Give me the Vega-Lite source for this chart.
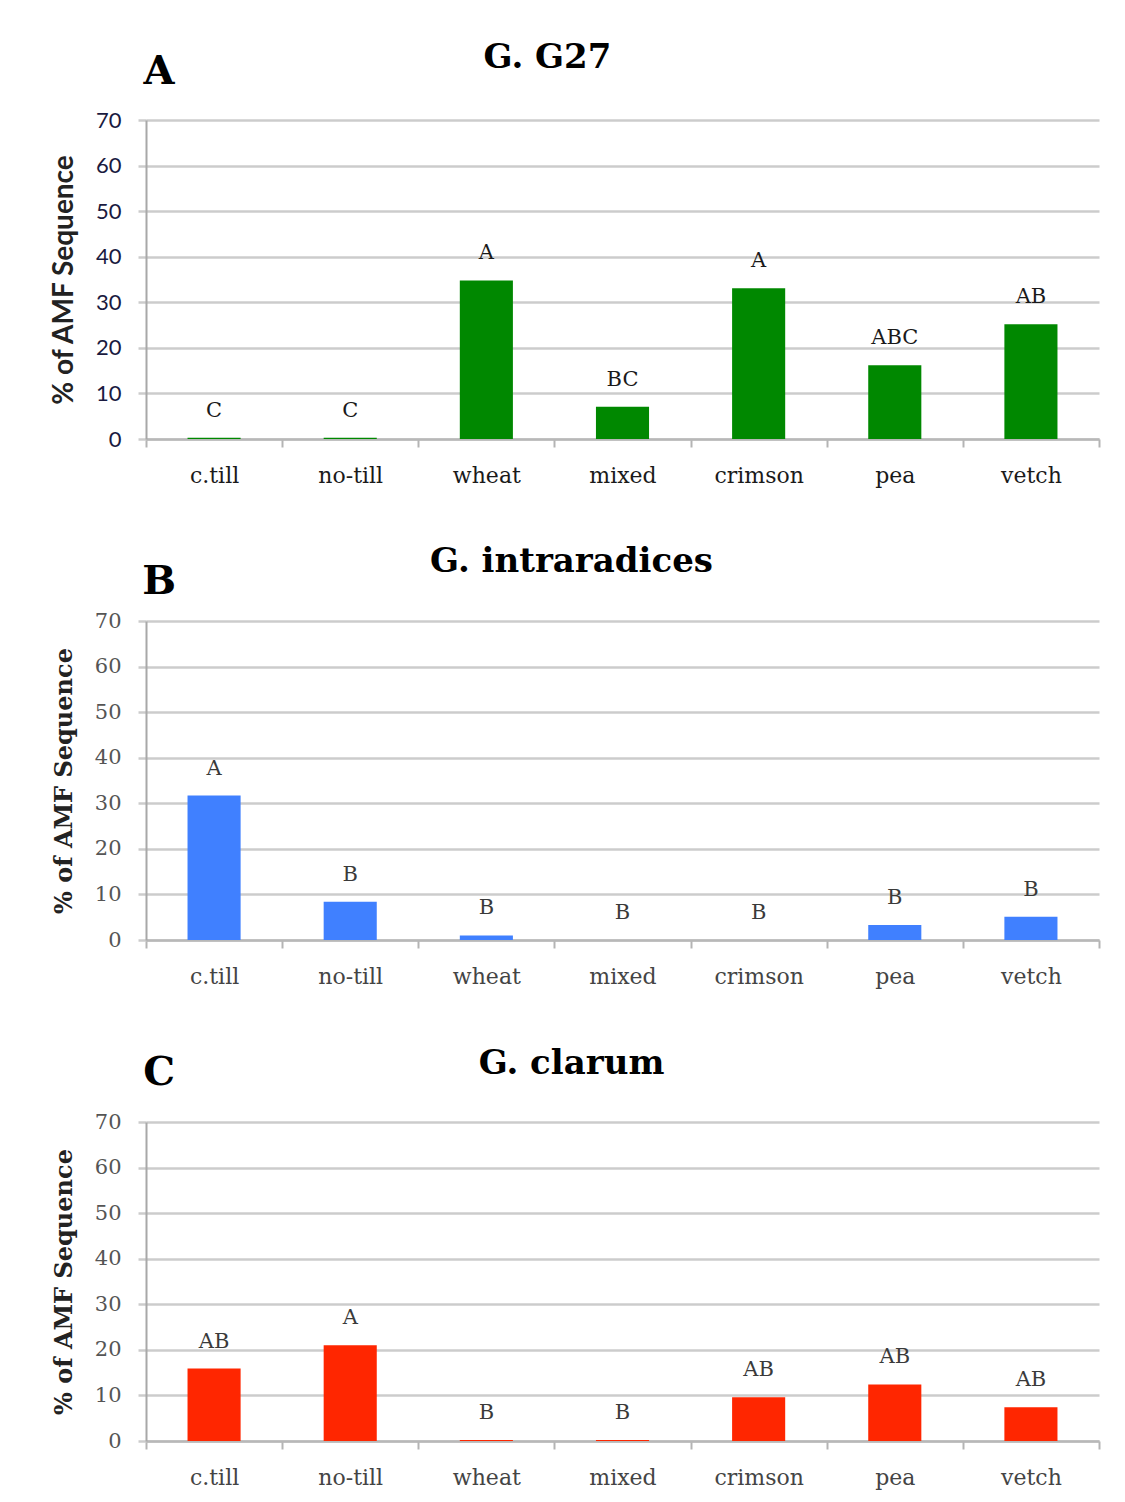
{
  "$schema": "https://vega.github.io/schema/vega-lite/v6.json",
  "background": "white",
  "padding": {"left": 50, "top": 41, "right": 5, "bottom": 5},
  "datasets": {
    "g27": [
      {"treatment": "c.till", "pct": 0.3, "sig": "C"},
      {"treatment": "no-till", "pct": 0.3, "sig": "C"},
      {"treatment": "wheat", "pct": 34.8, "sig": "A"},
      {"treatment": "mixed", "pct": 7.1, "sig": "BC"},
      {"treatment": "crimson", "pct": 33.1, "sig": "A"},
      {"treatment": "pea", "pct": 16.2, "sig": "ABC"},
      {"treatment": "vetch", "pct": 25.2, "sig": "AB"}
    ],
    "intra": [
      {"treatment": "c.till", "pct": 31.7, "sig": "A"},
      {"treatment": "no-till", "pct": 8.4, "sig": "B"},
      {"treatment": "wheat", "pct": 1.0, "sig": "B"},
      {"treatment": "mixed", "pct": 0, "sig": "B"},
      {"treatment": "crimson", "pct": 0, "sig": "B"},
      {"treatment": "pea", "pct": 3.3, "sig": "B"},
      {"treatment": "vetch", "pct": 5.1, "sig": "B"}
    ],
    "clarum": [
      {"treatment": "c.till", "pct": 15.9, "sig": "AB"},
      {"treatment": "no-till", "pct": 21.0, "sig": "A"},
      {"treatment": "wheat", "pct": 0.2, "sig": "B"},
      {"treatment": "mixed", "pct": 0.2, "sig": "B"},
      {"treatment": "crimson", "pct": 9.6, "sig": "AB"},
      {"treatment": "pea", "pct": 12.4, "sig": "AB"},
      {"treatment": "vetch", "pct": 7.4, "sig": "AB"}
    ]
  },
  "bounds": "flush",
  "spacing": 182,
  "vconcat": [
    {
      "width": 953,
      "height": 319,
      "data": {"name": "g27"},
      "encoding": {
        "x": {"field": "treatment", "type": "nominal", "sort": null,
              "scale": {"paddingInner": 0, "paddingOuter": 0},
              "axis": {"title": null, "labelColor": "#1a1a1a"}},
        "y": {"field": "pct", "type": "quantitative",
              "scale": {"domain": [0, 70], "nice": false},
              "axis": {"title": "% of AMF Sequence", "labelFont": "Lato", "labelFontSize": 22, "labelColor": "#1a1a40",
                       "titleFont": "Lato", "titleFontSize": 28, "titlePadding": 17}}
      },
      "layer": [
        {"mark": {"type": "bar", "color": "#008800", "width": {"band": 0.39}}},
        {"mark": {"type": "text", "dy": -27, "baseline": "middle", "font": "DejaVu Serif", "fontSize": 21, "color": "#1a1a1a"},
         "encoding": {"text": {"field": "sig"}}},
        {"transform": [{"filter": "datum.treatment === 'mixed'"}],
         "mark": {"type": "text", "text": "G. G27", "font": "DejaVu Serif", "fontWeight": "bold", "fontSize": 34, "color": "#000", "baseline": "middle", "dx": -75},
         "encoding": {"y": {"datum": 83.5, "type": "quantitative"}}},
        {"transform": [{"filter": "datum.treatment === 'c.till'"}],
         "mark": {"type": "text", "text": "A", "font": "DejaVu Serif", "fontWeight": "bold", "fontSize": 40, "color": "#000", "baseline": "middle", "dx": -55},
         "encoding": {"y": {"datum": 80.5, "type": "quantitative"}}}
      ]
    },
    {
      "width": 953,
      "height": 319,
      "data": {"name": "intra"},
      "encoding": {
        "x": {"field": "treatment", "type": "nominal", "sort": null,
              "scale": {"paddingInner": 0, "paddingOuter": 0},
              "axis": {"title": null}},
        "y": {"field": "pct", "type": "quantitative",
              "scale": {"domain": [0, 70], "nice": false},
              "axis": {"title": "% of AMF Sequence"}}
      },
      "layer": [
        {"mark": {"type": "bar", "color": "#4080ff", "width": {"band": 0.39}}},
        {"mark": {"type": "text", "dy": -27, "baseline": "middle", "font": "DejaVu Serif", "fontSize": 21, "color": "#3a3a3a"},
         "encoding": {"text": {"field": "sig"}}},
        {"transform": [{"filter": "datum.treatment === 'mixed'"}],
         "mark": {"type": "text", "text": "G. intraradices", "font": "DejaVu Serif", "fontWeight": "bold", "fontSize": 34, "color": "#000", "baseline": "middle", "dx": -51},
         "encoding": {"y": {"datum": 83.0, "type": "quantitative"}}},
        {"transform": [{"filter": "datum.treatment === 'c.till'"}],
         "mark": {"type": "text", "text": "B", "font": "DejaVu Serif", "fontWeight": "bold", "fontSize": 40, "color": "#000", "baseline": "middle", "dx": -55},
         "encoding": {"y": {"datum": 78.6, "type": "quantitative"}}}
      ]
    },
    {
      "width": 953,
      "height": 319,
      "data": {"name": "clarum"},
      "encoding": {
        "x": {"field": "treatment", "type": "nominal", "sort": null,
              "scale": {"paddingInner": 0, "paddingOuter": 0},
              "axis": {"title": null}},
        "y": {"field": "pct", "type": "quantitative",
              "scale": {"domain": [0, 70], "nice": false},
              "axis": {"title": "% of AMF Sequence"}}
      },
      "layer": [
        {"mark": {"type": "bar", "color": "#ff2600", "width": {"band": 0.39}}},
        {"mark": {"type": "text", "dy": -27, "baseline": "middle", "font": "DejaVu Serif", "fontSize": 21, "color": "#3a3a3a"},
         "encoding": {"text": {"field": "sig"}}},
        {"transform": [{"filter": "datum.treatment === 'mixed'"}],
         "mark": {"type": "text", "text": "G. clarum", "font": "DejaVu Serif", "fontWeight": "bold", "fontSize": 34, "color": "#000", "baseline": "middle", "dx": -51},
         "encoding": {"y": {"datum": 82.7, "type": "quantitative"}}},
        {"transform": [{"filter": "datum.treatment === 'c.till'"}],
         "mark": {"type": "text", "text": "C", "font": "DejaVu Serif", "fontWeight": "bold", "fontSize": 40, "color": "#000", "baseline": "middle", "dx": -55},
         "encoding": {"y": {"datum": 80.7, "type": "quantitative"}}}
      ]
    }
  ],
  "config": {
    "view": {"stroke": null},
    "axisX": {
      "labelAngle": 0, "tickBand": "extent", "ticks": true, "tickSize": 8, "tickColor": "#b4b4b4", "tickWidth": 2,
      "domainColor": "#b8b8b8", "domainWidth": 2.5, "grid": false,
      "labelFont": "DejaVu Serif", "labelFontSize": 22, "labelColor": "#444", "labelPadding": 18
    },
    "axisY": {
      "values": [0, 10, 20, 30, 40, 50, 60, 70],
      "grid": true, "gridColor": "#cccccc", "gridWidth": 2.5,
      "domainColor": "#a8a8a8", "domainWidth": 2,
      "tickSize": 8, "tickColor": "#cccccc", "tickWidth": 2.5,
      "labelFont": "DejaVu Serif", "labelFontSize": 21, "labelColor": "#555", "labelPadding": 17,
      "titleFont": "DejaVu Serif", "titleFontSize": 24, "titleFontWeight": "bold", "titleColor": "#222", "titlePadding": 18
    }
  }
}
